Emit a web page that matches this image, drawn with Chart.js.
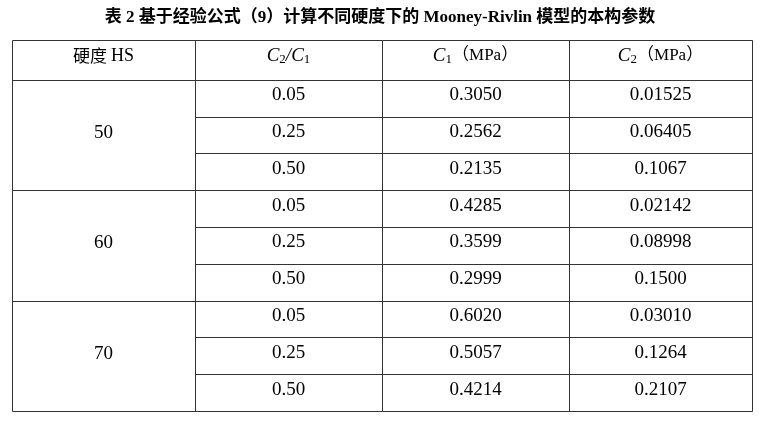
<!DOCTYPE html>
<html>
<head>
<meta charset="utf-8">
<script src="https://cdn.jsdelivr.net/npm/chart.js@4/dist/chart.umd.min.js"></script>
<style>body{margin:0;background:#fff}</style>
</head>
<body>
<canvas id="tbl" width="760" height="422"></canvas>
<script>
// Table data
const title = '表 2 基于经验公式（9）计算不同硬度下的 Mooney-Rivlin 模型的本构参数';
const hardness = ['50', '60', '70'];
const ratios = ['0.05', '0.25', '0.50'];
const c1Values = ['0.3050', '0.2562', '0.2135', '0.4285', '0.3599', '0.2999', '0.6020', '0.5057', '0.4214'];
const c2Values = ['0.01525', '0.06405', '0.1067', '0.02142', '0.08998', '0.1500', '0.03010', '0.1264', '0.2107'];
const colEdges = [0, 183, 370, 557, 740];
const headTop = -0.08;

const serif = '"Liberation Serif", "DejaVu Serif", serif';
const cjk = '"Noto Sans CJK SC", sans-serif';

function subText(ctx, parts, cx, cy) {
  let w = 0;
  parts.forEach(p => { ctx.font = p[1]; w += ctx.measureText(p[0]).width; });
  let x = cx - w / 2;
  ctx.textAlign = 'left';
  parts.forEach(p => { ctx.font = p[1]; ctx.fillText(p[0], x, cy + (p[2] || 0)); x += ctx.measureText(p[0]).width; });
  ctx.textAlign = 'center';
}

const tablePlugin = {
  id: 'tablePlugin',
  afterDraw(chart) {
    const ctx = chart.ctx, xs = chart.scales.x, ys = chart.scales.y;
    const X = v => xs.getPixelForValue(v), Y = v => ys.getPixelForValue(v);
    ctx.save();
    ctx.fillStyle = '#000';
    ctx.textBaseline = 'middle';
    ctx.textAlign = 'center';
    ctx.font = 'bold 17px ' + serif + ',' + cjk;
    ctx.fillText(title, 380, 18);

    ctx.strokeStyle = '#333';
    ctx.lineWidth = 1;
    const line = (x0, y0, x1, y1) => { ctx.beginPath(); ctx.moveTo(Math.round(X(x0)) + 0.5, Math.round(Y(y0)) + 0.5); ctx.lineTo(Math.round(X(x1)) + 0.5, Math.round(Y(y1)) + 0.5); ctx.stroke(); };
    colEdges.forEach(e => line(e, headTop, e, 10));
    line(colEdges[0], headTop, colEdges[4], headTop);
    for (let r = 1; r <= 10; r++) {
      const full = (r - 1) % 3 === 0;
      line(full ? colEdges[0] : colEdges[1], r, colEdges[4], r);
    }
    const cx = i => X((colEdges[i] + colEdges[i + 1]) / 2);
    const hy = Y((headTop + 1) / 2) - 4;
    subText(ctx, [['硬度 ', '17px ' + cjk], ['HS', '18px ' + serif]], cx(0), hy);
    const it = 'italic 19px ' + serif, sb = '13px ' + serif, rg = '19px ' + serif;
    subText(ctx, [['C', it], ['2', sb, 4], ['/', it], ['C', it], ['1', sb, 4]], cx(1), hy);
    subText(ctx, [['C', it], ['1', sb, 4], ['（MPa）', '17px ' + serif + ',' + cjk]], cx(2), hy);
    subText(ctx, [['C', it], ['2', sb, 4], ['（MPa）', '17px ' + serif + ',' + cjk]], cx(3), hy);
    ctx.font = rg;
    hardness.forEach((h, g) => {
      ctx.fillText(h, cx(0), Y(1 + g * 3 + 1.5) - 2);
      ratios.forEach((r, k) => {
        const i = g * 3 + k, y = Y(1 + i + 0.5) - 3;
        ctx.fillText(r, cx(1), y);
        ctx.fillText(c1Values[i], cx(2), y);
        ctx.fillText(c2Values[i], cx(3), y);
      });
    });
    ctx.restore();
  }
};

new Chart(document.getElementById('tbl'), {
  type: 'scatter',
  data: { datasets: [{ data: [] }] },
  options: {
    responsive: false,
    animation: false,
    layout: { padding: { left: 12, right: 8, top: 40, bottom: 11 } },
    plugins: { legend: { display: false }, tooltip: { enabled: false } },
    scales: {
      x: { type: 'linear', min: 0, max: 740, display: false },
      y: { type: 'linear', min: headTop, max: 10, reverse: true, display: false }
    }
  },
  plugins: [tablePlugin]
});
</script>
</body>
</html>
